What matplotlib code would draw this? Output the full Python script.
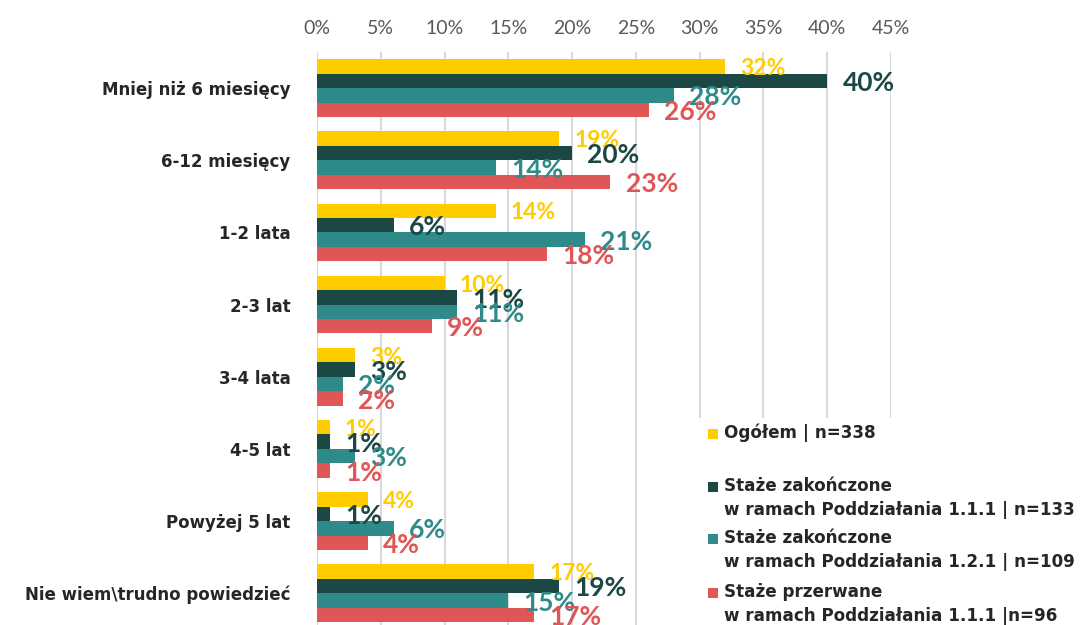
import numpy as np
import matplotlib.pyplot as plt
from matplotlib.patches import Rectangle

categories = ['Mniej niż 6 miesięcy', '6-12 miesięcy', '1-2 lata', '2-3 lat',
              '3-4 lata', '4-5 lat', 'Powyżej 5 lat', 'Nie wiem\\trudno powiedzieć']
ogolem = [32, 19, 14, 10, 3, 1, 4, 17]
zak_111 = [40, 20, 6, 11, 3, 1, 1, 19]
zak_121 = [28, 14, 21, 11, 2, 3, 6, 15]
przerwane = [26, 23, 18, 9, 2, 1, 4, 17]

series = [ogolem, zak_111, zak_121, przerwane]
colors = ['#FFCC00', '#1B4744', '#2E8B8A', '#E05656']
label_sizes = [16.5, 19, 19, 19]
legend_labels = ['Ogółem | n=338',
                 'Staże zakończone\nw ramach Poddziałania 1.1.1 | n=133',
                 'Staże zakończone\nw ramach Poddziałania 1.2.1 | n=109',
                 'Staże przerwane\nw ramach Poddziałania 1.1.1 |n=96']
xticks = [0, 5, 10, 15, 20, 25, 30, 35, 40, 45]

W, H = 1086, 625
fig = plt.figure(figsize=(W / 100, H / 100), dpi=100)
ax = fig.add_axes([317 / W, 0, (891 - 317) / W, 1 - 52 / H])

y = np.arange(len(categories))
h = 0.2
for i, (vals, c, fs) in enumerate(zip(series, colors, label_sizes)):
    pos = y - 0.3 + i * h
    ax.barh(pos, vals, height=h, color=c, zorder=2)
    for p, v in zip(pos, vals):
        ax.text(v + 1.2, p + 0.03, f'{v}%', color=c, fontsize=fs, fontweight='bold',
                family='Lato', va='center', ha='left', zorder=3)

ax.set_xlim(0, 45)
ax.set_ylim(7.44, -0.5)
ax.set_xticks(xticks)
ax.set_xticklabels([f'{t}%' for t in xticks], family='Lato', fontsize=14, color='#595959')
ax.xaxis.tick_top()
ax.tick_params(axis='x', length=0, pad=11)
ax.set_yticks(y)
ax.set_yticklabels(categories, fontsize=12, fontweight='bold', color='#262626')
ax.tick_params(axis='y', length=0, pad=19)
ax.grid(axis='x', color='#D9D9D9', linewidth=1.5, zorder=0)
for s in ax.spines.values():
    s.set_visible(False)

# legend, drawn by hand so the swatch sits on the first line
fig.patches.append(Rectangle((695 / W, 1 - 625 / H), (W - 695) / W, (625 - 418) / H,
                             transform=fig.transFigure, facecolor='white', edgecolor='none', zorder=5))
leg_y = [434, 487, 539, 593]
for ly, c, lab in zip(leg_y, colors, legend_labels):
    fig.patches.append(Rectangle((708 / W, 1 - (ly + 5) / H), 10 / W, 10 / H,
                                 transform=fig.transFigure, facecolor=c, edgecolor='none', zorder=6))
    fig.text(724 / W, 1 - (ly - 10) / H, lab, fontsize=12.1, fontweight='bold', color='#262626',
             va='top', ha='left', linespacing=1.4, zorder=6)

fig.savefig('out.png', dpi=100)
